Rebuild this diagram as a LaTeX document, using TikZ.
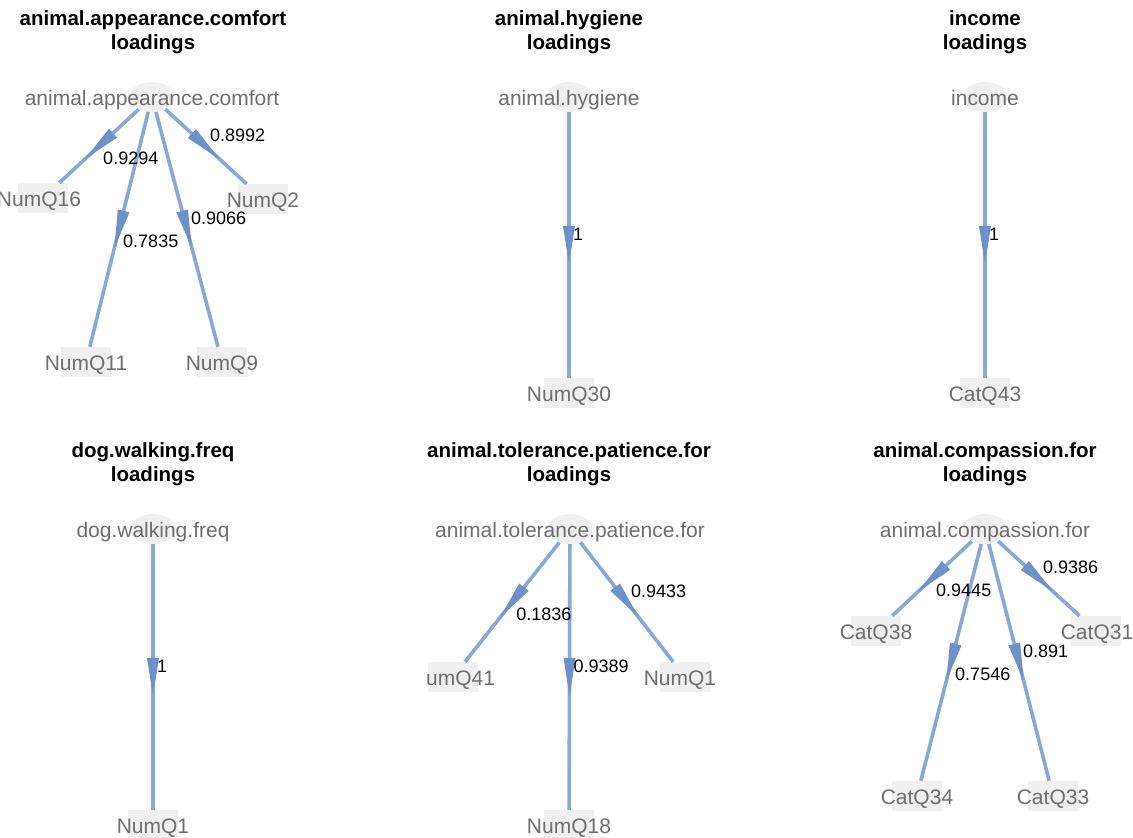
\documentclass[tikz,border=0pt]{standalone}
\usepackage{fontspec}
\setmainfont{Liberation Sans}
\usetikzlibrary{shapes.geometric,decorations.markings}
\definecolor{edgeblue}{RGB}{137,168,214}
\definecolor{arrowblue}{RGB}{108,146,201}
\definecolor{nodegray}{RGB}{110,110,110}
\definecolor{shapefill}{RGB}{240,240,240}
\tikzset{
  ttl/.style={font=\bfseries\fontsize{20.5}{24}\selectfont, align=center, inner sep=0pt},
  lat/.style={ellipse, fill=shapefill, minimum width=45pt, minimum height=30pt, inner sep=0pt},
  man/.style={rectangle, fill=shapefill, minimum width=50pt, minimum height=30pt, inner sep=0pt},
  every label/.style={font=\fontsize{21}{24}\selectfont, text=nodegray, inner sep=0pt,
    text height=15pt, text depth=4pt, yshift=-2.5pt},
  ld/.style={draw=edgeblue, line width=3.6pt, postaction={decorate},
    decoration={markings, mark=at position 0.5 with {\fill[arrowblue] (19pt,0pt) -- (-19pt,6pt) -- (-19pt,-6pt) -- cycle;}}},
  elab/.style={font=\fontsize{18}{20}\selectfont, text=black, anchor=west, inner sep=0pt, xshift=4pt},
  eup/.style={elab, yshift=11pt},
  edown/.style={elab, yshift=-12pt}
}
\begin{document}
\begin{tikzpicture}[x=1pt,y=-1pt]
\useasboundingbox (0,0) rectangle (1133,838);
\fill[white] (0,0) rectangle (1133,838);

% ---------- Panel 1 ----------
\node[ttl] (t1) at (153,32) {animal.appearance.comfort\\loadings};
\node[lat, label=center:animal.appearance.comfort] (L1) at (152,97) {};
\node[man, label={[xshift=-4pt]center:NumQ16}] (m16) at (43,198) {};
\node[man, label=center:NumQ2] (m2) at (263,199) {};
\node[man, label=center:NumQ11] (m11) at (86,362) {};
\node[man, label=center:NumQ9] (m9) at (222,362) {};
\draw[ld] (L1) -- coordinate[pos=.5] (e11) (m16);
\draw[ld] (L1) -- coordinate[pos=.5] (e12) (m2);
\draw[ld] (L1) -- coordinate[pos=.5] (e13) (m11);
\draw[ld] (L1) -- coordinate[pos=.5] (e14) (m9);
\node[edown] (l11) at (e11) {0.9294};
\node[eup] (l12) at (e12) {0.8992};
\node[edown] (l13) at (e13) {0.7835};
\node[eup] (l14) at (e14) {0.9066};

% ---------- Panel 2 ----------
\node[ttl] (t2) at (569,32) {animal.hygiene\\loadings};
\node[lat, label=center:animal.hygiene] (L2) at (569,97) {};
\node[man, label=center:NumQ30] (m30) at (569,393) {};
\draw[ld] (L2) -- coordinate[pos=.5] (e21) (m30);
\node[eup] (l21) at (e21) {1};

% ---------- Panel 3 ----------
\node[ttl] (t3) at (985,32) {income\\loadings};
\node[lat, label=center:income] (L3) at (985,97) {};
\node[man, label=center:CatQ43] (c43) at (985,393) {};
\draw[ld] (L3) -- coordinate[pos=.5] (e31) (c43);
\node[eup] (l31) at (e31) {1};

% ---------- Panel 4 ----------
\node[ttl] (t4) at (153,464) {dog.walking.freq\\loadings};
\node[lat, label=center:dog.walking.freq] (L4) at (153,529) {};
\node[man, label=center:NumQ1] (n1) at (153,825) {};
\draw[ld] (L4) -- coordinate[pos=.5] (e41) (n1);
\node[eup] (l41) at (e41) {1};

% ---------- Panel 5 ----------
\node[ttl] (t5) at (569,464) {animal.tolerance.patience.for\\loadings};
\begin{scope}
\clip (426,495) rectangle (716,838);
\node[lat, label=center:animal.tolerance.patience.for] (L5) at (570,529) {};
\node[man, label=center:NumQ41] (q41) at (453,677) {};
\node[man, label={[xshift=-5pt]center:NumQ1}] (q1) at (685,677) {};
\node[man, label=center:NumQ18] (q18) at (569,825) {};
\draw[ld] (L5) -- coordinate[pos=.5] (e51) (q41);
\draw[ld] (L5) -- coordinate[pos=.5] (e52) (q1);
\draw[ld] (L5) -- coordinate[pos=.5] (e53) (q18);
\node[edown] (l51) at (e51) {0.1836};
\node[eup] (l52) at (e52) {0.9433};
\node[eup] (l53) at (e53) {0.9389};
\end{scope}

% ---------- Panel 6 ----------
\node[ttl] (t6) at (985,464) {animal.compassion.for\\loadings};
\node[lat, label=center:animal.compassion.for] (L6) at (985,529) {};
\node[man, label=center:CatQ38] (c38) at (876,631) {};
\node[man, label={[xshift=1pt]center:CatQ31}] (c31) at (1096,631) {};
\node[man, label=center:CatQ34] (c34) at (917,796) {};
\node[man, label=center:CatQ33] (c33) at (1053,796) {};
\draw[ld] (L6) -- coordinate[pos=.5] (e61) (c38);
\draw[ld] (L6) -- coordinate[pos=.5] (e62) (c31);
\draw[ld] (L6) -- coordinate[pos=.5] (e63) (c34);
\draw[ld] (L6) -- coordinate[pos=.5] (e64) (c33);
\node[edown] (l61) at (e61) {0.9445};
\node[eup] (l62) at (e62) {0.9386};
\node[edown] (l63) at (e63) {0.7546};
\node[eup] (l64) at (e64) {0.891};
\end{tikzpicture}
\end{document}
